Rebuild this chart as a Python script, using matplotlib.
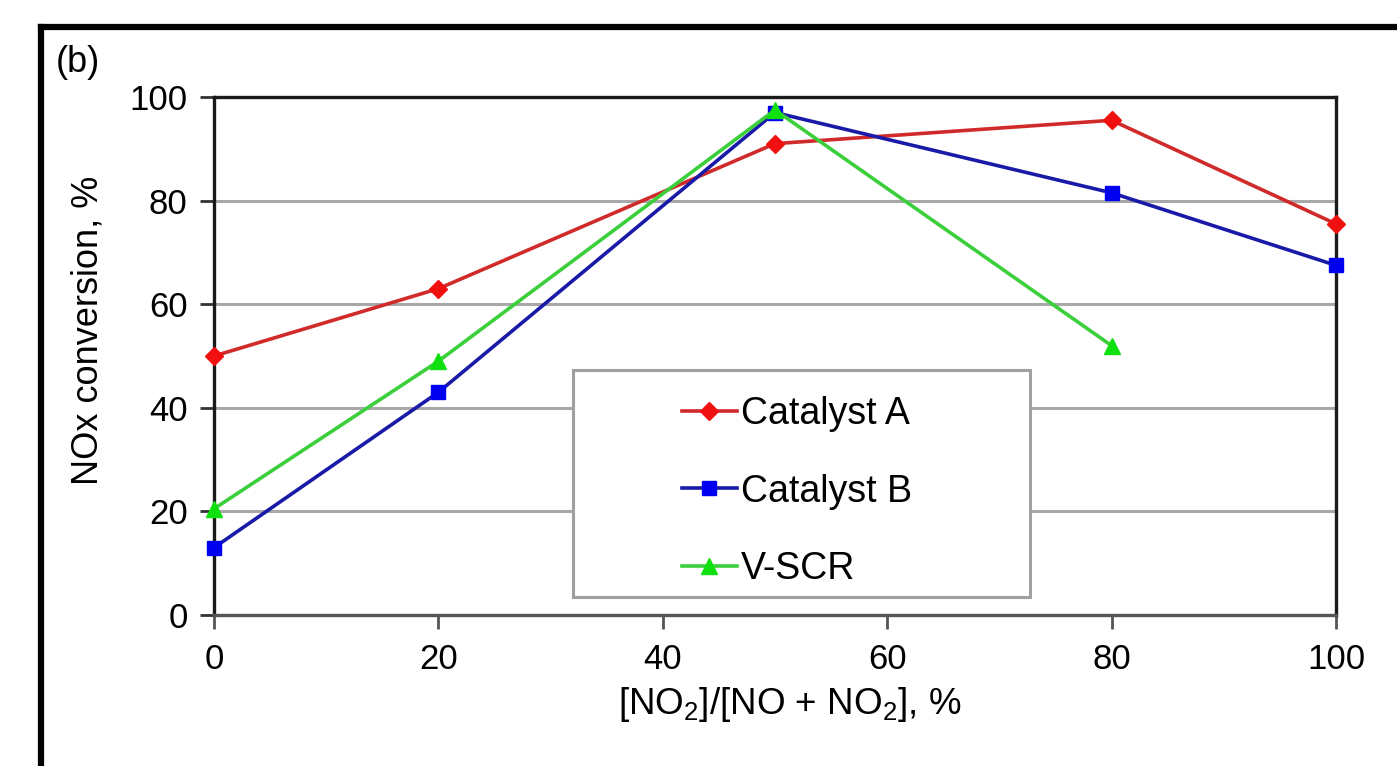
import numpy as np
import matplotlib
matplotlib.use('Agg')
import matplotlib.pyplot as plt
from matplotlib.lines import Line2D
from matplotlib.patches import Rectangle

plt.rcParams['font.family'] = ['Liberation Sans', 'DejaVu Sans']
plt.rcParams['mathtext.fontset'] = 'custom'
plt.rcParams['mathtext.rm'] = 'Liberation Sans'
plt.rcParams['mathtext.it'] = 'Liberation Sans:italic'

# data
no2_ratio = [0, 20, 50, 80, 100]
catalyst_a = [50, 63, 91, 95.5, 75.5]
catalyst_b = [13, 43, 97, 81.5, 67.5]
vscr_x = [0, 20, 50, 80]
vscr = [20.5, 49, 97.5, 52]
x_ticks = [0, 20, 40, 60, 80, 100]
y_ticks = [0, 20, 40, 60, 80, 100]

W, H = 1397, 766
fig = plt.figure(figsize=(W / 100, H / 100), dpi=100)
ax = fig.add_axes([214 / W, 1 - 615 / H, (1336 - 214) / W, (615 - 97) / H])

# gridlines
ax.set_axisbelow(True)
ax.yaxis.grid(True, color='#a8a8a8', lw=2.2)

ax.plot(no2_ratio, catalyst_a, color='#d02a2a', lw=2.6, marker='D', ms=9,
        mfc='#f01010', mec='#f01010', label='Catalyst A', clip_on=False, zorder=3)
ax.plot(no2_ratio, catalyst_b, color='#1a1aa8', lw=2.6, marker='s', ms=9.5,
        mfc='#0000f0', mec='#0000f0', label='Catalyst B', clip_on=False, zorder=3)
ax.plot(vscr_x, vscr, color='#3ccf3c', lw=2.6, marker='^', ms=11,
        mfc='#10e010', mec='#10e010', label='V-SCR', clip_on=False, zorder=3)

ax.set_xlim(0, 100)
ax.set_ylim(0, 100)
ax.set_xticks(x_ticks)
ax.set_yticks(y_ticks)
ax.tick_params(axis='y', direction='out', length=10, width=2, pad=9,
               labelsize=25, color='#333333')
ax.tick_params(axis='x', direction='out', length=10, width=2, pad=10,
               labelsize=25, color='#555555')

for s in ['left', 'right', 'top']:
    ax.spines[s].set_color('#1a1a1a')
    ax.spines[s].set_linewidth(2.4)
ax.spines['bottom'].set_color('#555555')
ax.spines['bottom'].set_linewidth(2.4)

# axis titles
fig.text(88 / W, 1 - 330 / H, 'NOx conversion, %', rotation=90,
         ha='center', va='center', fontsize=26)
fig.text(790 / W, 1 - 705 / H, r'[NO$_\mathrm{2}$]/[NO + NO$_\mathrm{2}$], %',
         ha='center', va='center', fontsize=26.5)
fig.text(78 / W, 1 - 62 / H, '(b)', ha='center', va='center', fontsize=26)

# legend box (drawn inside the axes so it sits under the legend text)
box = Rectangle((573 / W, 1 - 597 / H), (1030 - 573) / W, (597 - 370) / H,
                transform=fig.transFigure, facecolor='white', edgecolor='#a0a0a0',
                lw=2.2, zorder=4, clip_on=False)
ax.add_patch(box)
leg = ax.legend(loc='upper left', bbox_to_anchor=(656 / W, 1 - 370 / H),
                bbox_transform=fig.transFigure, frameon=False, fontsize=27,
                handlelength=1.45, handletextpad=0.12, labelspacing=1.1,
                borderpad=0.2)
leg.set_zorder(5)

# outer frame of the panel
fig.add_artist(Line2D([41 / W, 41 / W], [-0.1, 1 - 27 / H], color='black', lw=4.5,
                      transform=fig.transFigure))
fig.add_artist(Line2D([41 / W, 1.1], [1 - 27 / H, 1 - 27 / H], color='black', lw=4.5,
                      transform=fig.transFigure))

plt.savefig('out.png', dpi=100)
